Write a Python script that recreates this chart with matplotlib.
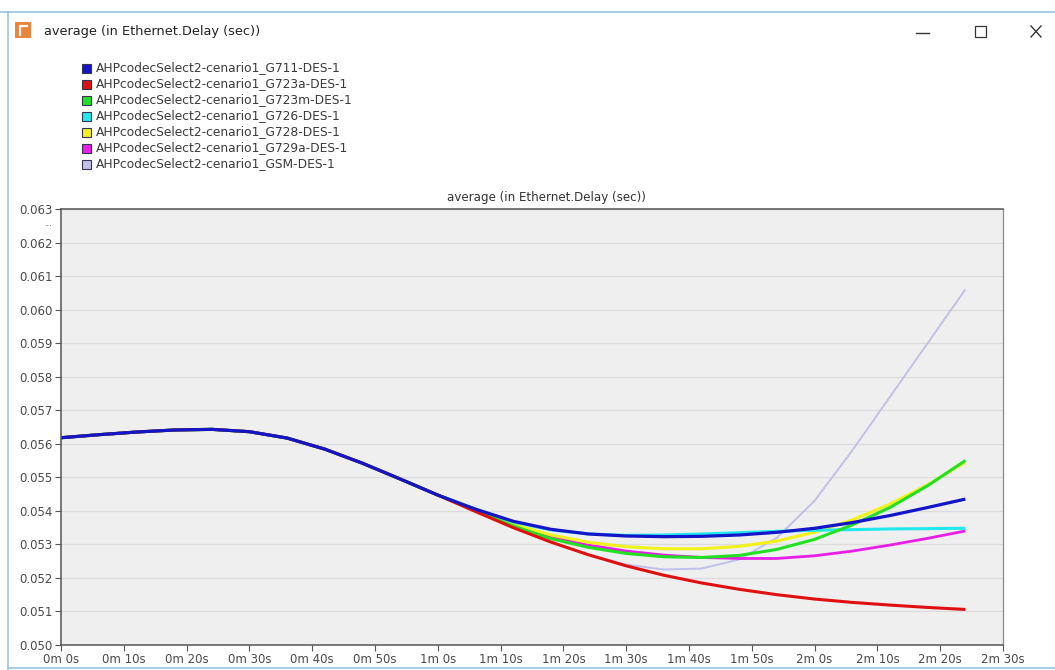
import matplotlib.pyplot as plt
from matplotlib.patches import Rectangle
from matplotlib.lines import Line2D

plt.rcParams['font.family'] = ['DejaVu Sans']

W, H = 1055, 670

# sample times (s) and delay values (s)
t_sec = list(range(0, 145, 6))
shared_start = [0.05618, 0.05627, 0.05635, 0.05641, 0.05643, 0.05636,
                0.05617, 0.05584, 0.05542, 0.05495, 0.05447]

g711 = [0.05405, 0.05369, 0.05345, 0.05331, 0.05325, 0.05323, 0.05324,
        0.05328, 0.05336, 0.05348, 0.05365, 0.05386, 0.05410, 0.05435]
g723a = [0.05398, 0.05350, 0.05307, 0.05269, 0.05236, 0.05208, 0.05185,
         0.05166, 0.05150, 0.05137, 0.05127, 0.05119, 0.05112, 0.05106]
g723m = [0.05400, 0.05355, 0.05317, 0.05291, 0.05273, 0.05263, 0.05261,
         0.05267, 0.05285, 0.05315, 0.05358, 0.05410, 0.05475, 0.05550]
g726 = [0.05405, 0.05367, 0.05343, 0.05331, 0.05327, 0.05328, 0.05331,
        0.05335, 0.05339, 0.05342, 0.05344, 0.05346, 0.05347, 0.05348]
g728 = [0.05402, 0.05360, 0.05328, 0.05306, 0.05293, 0.05287, 0.05287,
        0.05294, 0.05310, 0.05336, 0.05373, 0.05420, 0.05478, 0.05545]
g729a = [0.05402, 0.05358, 0.05323, 0.05298, 0.05280, 0.05268, 0.05261,
         0.05258, 0.05258, 0.05266, 0.05280, 0.05298, 0.05318, 0.05340]
gsm = [0.05400, 0.05350, 0.05305, 0.05268, 0.05240, 0.05225, 0.05228,
       0.05255, 0.05320, 0.05430, 0.05580, 0.05740, 0.05900, 0.06060]

labels = ['AHPcodecSelect2-cenario1_G711-DES-1',
          'AHPcodecSelect2-cenario1_G723a-DES-1',
          'AHPcodecSelect2-cenario1_G723m-DES-1',
          'AHPcodecSelect2-cenario1_G726-DES-1',
          'AHPcodecSelect2-cenario1_G728-DES-1',
          'AHPcodecSelect2-cenario1_G729a-DES-1',
          'AHPcodecSelect2-cenario1_GSM-DES-1']
tails = [g711, g723a, g723m, g726, g728, g729a, gsm]
colors = ['#1414c8', '#e01010', '#22e022', '#22e8ee', '#f2f21a', '#e81ee8', '#c0c0ea']
widths = [2.3, 2.2, 2.2, 2.2, 2.2, 2.0, 1.4]

y_ticks = [0.050 + 0.001 * i for i in range(14)]
x_ticks = list(range(0, 151, 10))
x_ticklabels = ['%dm %ds' % (s // 60, s % 60) for s in x_ticks]


def fx(px):
    return px / W


def fy(py):
    return 1 - py / H


fig = plt.figure(figsize=(W / 100, H / 100), dpi=100)
fig.patch.set_facecolor('white')

# window frame
fig.add_artist(Line2D([fx(0), fx(W)], [fy(12), fy(12)], color='#9cc3e4', lw=1.2))
fig.add_artist(Line2D([fx(8), fx(8)], [fy(12), fy(H)], color='#9cc3e4', lw=1.2))
fig.add_artist(Line2D([fx(8), fx(W)], [fy(668), fy(668)], color='#9cc3e4', lw=1.2))

# title bar: icon, caption and buttons
fig.add_artist(Rectangle((fx(15), fy(38)), fx(16), 16 / H, color='#e8843c', lw=0))
fig.add_artist(Line2D([fx(20), fx(20), fx(27)], [fy(35), fy(26), fy(26)],
                      color='white', lw=1.6))
fig.text(fx(44), fy(31), 'average (in Ethernet.Delay (sec))', fontsize=9.3,
         color='#222222', va='center')
fig.add_artist(Line2D([fx(916), fx(929)], [fy(33), fy(33)], color='#333333', lw=1.0))
fig.add_artist(Rectangle((fx(975), fy(37)), fx(11), 11 / H, fill=False,
                         ec='#333333', lw=0.9))
fig.add_artist(Line2D([fx(1031), fx(1041)], [fy(26), fy(37)], color='#333333', lw=1.0))
fig.add_artist(Line2D([fx(1031), fx(1041)], [fy(37), fy(26)], color='#333333', lw=1.0))

# legend
for i, (lab, col) in enumerate(zip(labels, colors)):
    yc = 68 + 16 * i
    fig.add_artist(Rectangle((fx(82), fy(yc + 4.5)), fx(9), 9 / H,
                             fc=col, ec='#333355', lw=0.8))
    fig.text(fx(96), fy(yc), lab, fontsize=8.8, color='#3a3a3a', va='center')

# plot area
ax = fig.add_axes([fx(61), fy(645), fx(1003) - fx(61), fy(209) - fy(645)])
ax.set_facecolor('#efefef')

for lab, tail, col, lw in reversed(list(zip(labels, tails, colors, widths))):
    ax.plot(t_sec, shared_start + tail, color=col, lw=lw,
            solid_joinstyle='round', solid_capstyle='butt', label=lab)

ax.set_xlim(0, 150)
ax.set_ylim(0.050, 0.063)
ax.set_yticks(y_ticks)
ax.set_yticklabels(['%.3f' % v for v in y_ticks])
ax.set_xticks(x_ticks)
ax.set_xticklabels(x_ticklabels)
ax.yaxis.grid(True, color='#dcdcdc', lw=0.9)
ax.set_axisbelow(True)
ax.tick_params(axis='both', direction='out', length=4, width=0.8,
               color='#555555', labelsize=8.5, labelcolor='#4a4a4a', pad=2)

for side in ['left', 'bottom', 'top']:
    ax.spines[side].set_color('#555555')
    ax.spines[side].set_linewidth(1.1)
ax.spines['right'].set_color('#8a8a8a')
ax.spines['right'].set_linewidth(0.9)

ax.text(0.515, 1.012, 'average (in Ethernet.Delay (sec))', transform=ax.transAxes,
        ha='center', va='bottom', fontsize=8.6, color='#333333')
fig.text(fx(44), fy(224), '...', fontsize=6, color='#444444', va='center')

fig.savefig('out.png', dpi=100)
